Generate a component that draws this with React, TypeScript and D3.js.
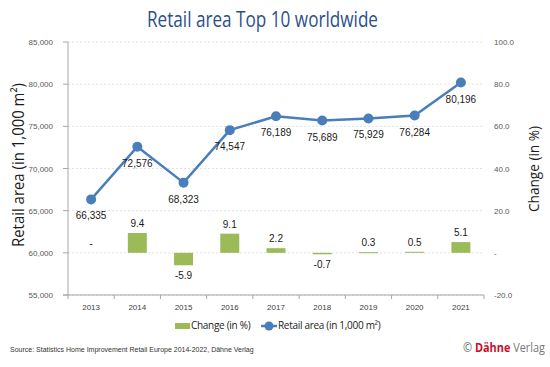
import * as d3 from 'd3';
import React from 'react';

const years = ['2013', '2014', '2015', '2016', '2017', '2018', '2019', '2020', '2021'];
const retailArea = [66335, 72576, 68323, 74547, 76189, 75689, 75929, 76284, 80196];
const change = [0, 9.4, -5.9, 9.1, 2.2, -0.7, 0.3, 0.5, 5.1];
const leftTicks = [55000, 60000, 65000, 70000, 75000, 80000, 85000];
const rightTicks = [-20, 0, 20, 40, 60, 80, 100];

const W = 550;
const H = 367;
const margin = { top: 42, right: 66, bottom: 72, left: 68 };

const App: React.FC = () => {
  const x = d3
    .scaleBand()
    .domain(years)
    .range([margin.left, W - margin.right]);
  const yL = d3
    .scaleLinear()
    .domain([55000, 85000])
    .range([H - margin.bottom, margin.top]);
  const yR = d3
    .scaleLinear()
    .domain([-20, 100])
    .range([H - margin.bottom, margin.top]);

  const fmt = d3.format(',');
  // plain hyphen for minus, like the original
  const pct = (v: number) => (v === 0 ? '-' : v.toFixed(1));
  const cx = (y: string) => (x(y) as number) + x.bandwidth() / 2;
  const barW = 19;

  const line = d3
    .line<number>()
    .x((_, i) => cx(years[i]))
    .y((d) => yL(d));

  const axisFont = 'Arial, "Liberation Sans", sans-serif';
  const x0 = margin.left;
  const x1 = W - margin.right;
  const yBottom = H - margin.bottom;

  return (
    <svg width={W} height={H} style={{ position: 'absolute', left: 0, top: 0 }}>
      <rect width={W} height={H} fill="white" />
      <text
        x={147}
        y={27}
        fontFamily='"Open Sans", sans-serif'
        fontSize={22}
        fill="#2b4f88"
        textLength={231}
        lengthAdjust="spacingAndGlyphs"
      >
        Retail area Top 10 worldwide
      </text>

      {/* gridlines */}
      {leftTicks.map((t) => (
        <line
          key={t}
          x1={x0}
          x2={x1}
          y1={yL(t)}
          y2={yL(t)}
          stroke="#d9d9d9"
          strokeDasharray="2,2"
          strokeWidth={0.8}
        />
      ))}

      {/* left axis */}
      <line x1={x0} x2={x0} y1={margin.top} y2={yBottom} stroke="#a6a6a6" />
      {leftTicks.map((t) => (
        <g key={t}>
          <line x1={x0 - 5} x2={x0} y1={yL(t)} y2={yL(t)} stroke="#a6a6a6" />
          <text
            x={x0 - 15}
            y={yL(t) + 3}
            textAnchor="end"
            fontFamily={axisFont}
            fontSize={8}
            fill="#595959"
          >
            {fmt(t)}
          </text>
        </g>
      ))}

      {/* right axis labels */}
      {rightTicks.map((t) => (
        <text
          key={t}
          x={x1 + 10}
          y={yR(t) + 3}
          textAnchor="start"
          fontFamily={axisFont}
          fontSize={8}
          fill="#595959"
        >
          {pct(t)}
        </text>
      ))}

      {/* bottom axis */}
      <line x1={x0 - 5} x2={x1} y1={yBottom} y2={yBottom} stroke="#a6a6a6" />
      {years.map((y) => (
        <g key={y}>
          <line
            x1={x(y) as number}
            x2={x(y) as number}
            y1={yBottom}
            y2={yBottom + 4}
            stroke="#a6a6a6"
          />
          <text
            x={cx(y)}
            y={yBottom + 15}
            textAnchor="middle"
            fontFamily={axisFont}
            fontSize={8}
            fill="#404040"
          >
            {y}
          </text>
        </g>
      ))}
      <line x1={x1} x2={x1} y1={yBottom} y2={yBottom + 4} stroke="#a6a6a6" />

      {/* bars */}
      {change.map((v, i) => {
        const y0 = yR(0);
        const yv = yR(v);
        return (
          <g key={i}>
            {v !== 0 && (
              <rect
                x={cx(years[i]) - barW / 2}
                y={Math.min(y0, yv)}
                width={barW}
                height={Math.max(Math.abs(yv - y0), 1)}
                fill="#9bbb59"
              />
            )}
            <text
              x={cx(years[i])}
              y={v >= 0 ? yv - 6 : yv + 14}
              textAnchor="middle"
              fontFamily={axisFont}
              fontSize={10}
              fill="#1a1a1a"
            >
              {pct(v)}
            </text>
          </g>
        );
      })}

      {/* line */}
      <path d={line(retailArea) || ''} fill="none" stroke="#4a7ebb" strokeWidth={2.5} />
      {retailArea.map((v, i) => (
        <g key={i}>
          <circle cx={cx(years[i])} cy={yL(v)} r={5} fill="#4a7ebb" />
          <text
            x={cx(years[i])}
            y={yL(v) + 20}
            textAnchor="middle"
            fontFamily={axisFont}
            fontSize={10}
            fill="#1a1a1a"
          >
            {fmt(v)}
          </text>
        </g>
      ))}

      {/* axis titles */}
      <text
        transform={`translate(24,165) rotate(-90)`}
        textAnchor="middle"
        fontFamily='"Open Sans", sans-serif'
        fontSize={16}
        fill="#1a1a1a"
        textLength={164}
        lengthAdjust="spacingAndGlyphs"
      >
        Retail area (in 1,000 m²)
      </text>
      <text
        transform={`translate(539,169) rotate(-90)`}
        textAnchor="middle"
        fontFamily='"Open Sans", sans-serif'
        fontSize={15}
        fill="#1a1a1a"
        textLength={86}
        lengthAdjust="spacingAndGlyphs"
      >
        Change (in %)
      </text>

      {/* legend */}
      <rect x={175} y={323} width={15} height={6} fill="#9bbb59" />
      <text x={191} y={329} fontFamily='"Open Sans", sans-serif' fontSize={10} fill="#1a1a1a" letterSpacing={-0.3}>
        Change (in %)
      </text>
      <line x1={261} x2={277} y1={326} y2={326} stroke="#4a7ebb" strokeWidth={2.5} />
      <circle cx={269} cy={326} r={4.5} fill="#4a7ebb" />
      <text x={278} y={329} fontFamily='"Open Sans", sans-serif' fontSize={10} fill="#1a1a1a" letterSpacing={-0.3}>
        Retail area (in 1,000 m²)
      </text>

      {/* footer */}
      <text x={10} y={352} fontFamily={axisFont} fontSize={7} fill="#333">
        Source: Statistics Home Improvement Retail Europe 2014-2022, Dähne Verlag
      </text>
      <text
        x={463}
        y={352}
        fontFamily='"Open Sans", sans-serif'
        fontSize={12}
        textLength={82}
        lengthAdjust="spacingAndGlyphs"
      >
        <tspan fill="#666">© </tspan>
        <tspan fill="#c8102e" fontWeight="bold">Dähne</tspan>
        <tspan fill="#777"> Verlag</tspan>
      </text>
    </svg>
  );
};

export default App;
